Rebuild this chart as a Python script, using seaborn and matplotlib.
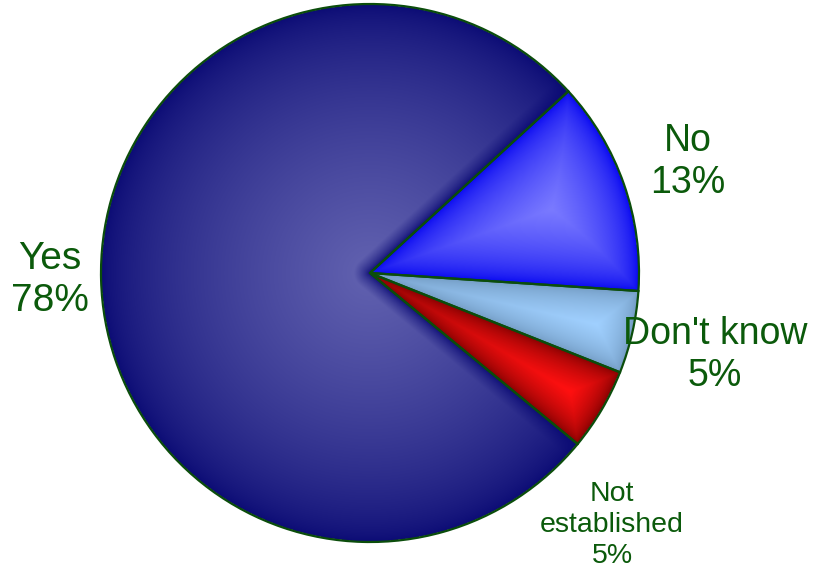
import numpy as np
import matplotlib
matplotlib.use("Agg")
import matplotlib.pyplot as plt
import seaborn as sns
from matplotlib.colors import to_rgb

# ---- data ----
categories = ["No", "Don't know", "Not established", "Yes"]
values = [13, 5, 5, 78]
label_texts = ["No\n13%", "Don't know\n5%", "Not\nestablished\n5%", "Yes\n78%"]

# ---- style ----
light_colors = ["#7a7aff", "#a0d0ff", "#ff1010", "#6262b0"]
dark_colors = ["#0000f0", "#6e96bd", "#780000", "#0a0a74"]
edge_color = "#0b4d0b"
text_color = "#0b5a0b"

sns.set_theme(style="white")
plt.rcParams["font.family"] = ["Liberation Sans", "DejaVu Sans"]

W, H = 816, 579
fig = plt.figure(figsize=(W / 100, H / 100), dpi=100)
ax = fig.add_axes([0, 0, 1, 1])

cx, cy, R = 370, H - 273, 269
wedges, _ = ax.pie(values, startangle=42.5, counterclock=False,
                   center=(cx, cy), radius=R, frame=True,
                   colors=light_colors,
                   wedgeprops=dict(edgecolor=edge_color, linewidth=1.6))
ax.set_xlim(0, W)
ax.set_ylim(0, H)
ax.set_aspect("equal")
ax.axis("off")

# gradient fill per wedge
n = 700
xs = np.linspace(cx - R, cx + R, n)
ys = np.linspace(cy - R, cy + R, n)
X, Y = np.meshgrid(xs, ys)
dx, dy = X - cx, Y - cy
r = np.hypot(dx, dy)
phi = np.degrees(np.arctan2(dy, dx)) % 360
for w, lc, dc in zip(wedges, light_colors, dark_colors):
    t1, t2 = w.theta1, w.theta2
    span = t2 - t1
    a = (phi - t1) % 360
    inside = (a <= span) & (r <= R)
    b = span - a
    d1 = r * np.sin(np.radians(np.minimum(a, 90)))
    d2 = r * np.sin(np.radians(np.minimum(b, 90)))
    dl = np.minimum(d1, d2)
    if span > 180:
        t_arc = np.clip((R - r) / R, 0, 1) ** 0.65
        t_line = np.clip(dl / 16.0, 0, 1) ** 0.7
        t = t_arc * t_line
    else:
        d = np.minimum(dl, R - r)
        d = np.where(inside, d, 0)
        t = np.clip(d / d.max(), 0, 1) ** 0.55
    t = np.where(inside, t, 0)
    L, D = np.array(to_rgb(lc)), np.array(to_rgb(dc))
    img = D[None, None, :] + (L - D)[None, None, :] * t[..., None]
    rgba = np.dstack([img, inside.astype(float)])
    im = ax.imshow(rgba, extent=(cx - R, cx + R, cy - R, cy + R),
                   origin="lower", interpolation="bilinear", zorder=1.5)
    im.set_clip_path(w)
    w.set_facecolor("none")
    w.set_zorder(2)
ax.set_xlim(0, W)
ax.set_ylim(0, H)

# labels
label_pos = [(688, H - 162), (715, H - 355), (612, H - 525), (50, H - 280)]
label_size = [27, 27, 20.5, 28]
label_ls = [1.2, 1.2, 1.25, 1.2]
for txt, (x, y), fs, ls in zip(label_texts, label_pos, label_size, label_ls):
    ax.text(x, y, txt, ha="center", va="center", color=text_color,
            fontsize=fs, linespacing=ls, zorder=3)

fig.savefig("out.png", dpi=100)
